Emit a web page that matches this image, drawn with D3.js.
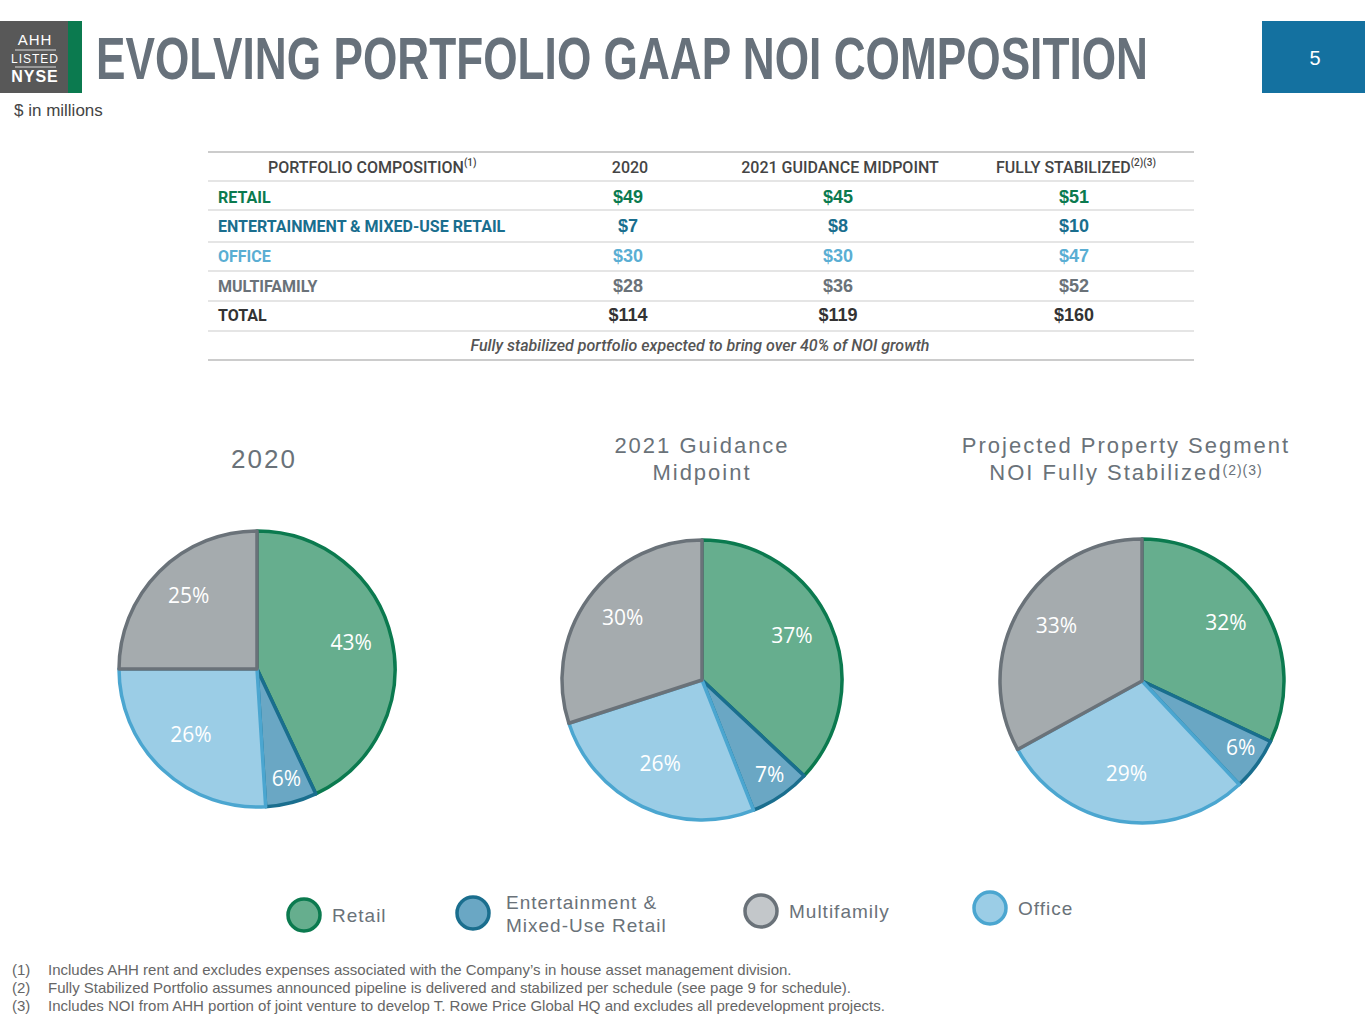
<!DOCTYPE html>
<html><head><meta charset="utf-8">
<script src="https://cdn.jsdelivr.net/npm/d3@7"></script>
<style>
body{margin:0;background:#fff;}
svg{display:block;font-family:"Liberation Sans",Arial,sans-serif;}
.nar{font-family:Roboto,"Liberation Sans",sans-serif;}
</style></head><body>
<svg id="c" width="1365" height="1024"></svg>
<script>
const segments = ["Retail", "Entertainment & Mixed-Use Retail", "Office", "Multifamily"];
const tableRows = ["RETAIL", "ENTERTAINMENT & MIXED-USE RETAIL", "OFFICE", "MULTIFAMILY", "TOTAL"];
const tableCols = ["2020", "2021 GUIDANCE MIDPOINT", "FULLY STABILIZED"];
const noi2020 = [49, 7, 30, 28, 114];
const noi2021 = [45, 8, 30, 36, 119];
const noiStab = [51, 10, 47, 52, 160];
const pie2020 = [43, 6, 26, 25];
const pie2021 = [37, 7, 26, 30];
const pieStab = [32, 6, 29, 33];
const fills = ["#66ae8e", "#6aa7c4", "#9bcde6", "#a5abae"];
const strokes = ["#0b7a4f", "#1a6e8e", "#4ba6d0", "#6a7279"];
const rowColors = ["#0b7a4f", "#1a6e8e", "#5aaed3", "#6a7279", "#333"];

const svg = d3.select("#c");

// header
svg.append("rect").attr("x",0).attr("y",21).attr("width",68).attr("height",72).attr("fill","#585858");
svg.append("rect").attr("x",68).attr("y",21).attr("width",14).attr("height",72).attr("fill","#0b7a4f");
[["AHH",45,15,"normal"],["LISTED",63,12,"normal"],["NYSE",82,16,"bold"]].forEach(d=>{
  svg.append("text").attr("x",35).attr("y",d[1]).attr("text-anchor","middle").attr("fill","#fff")
    .attr("font-size",d[2]).attr("font-weight",d[3]).attr("letter-spacing",1).text(d[0]);
});
svg.append("line").attr("x1",15).attr("x2",56).attr("y1",50).attr("y2",50).attr("stroke","#ddd");
svg.append("line").attr("x1",15).attr("x2",56).attr("y1",67).attr("y2",67).attr("stroke","#ddd");
svg.append("text").attr("x",96).attr("y",79).attr("font-size",60).attr("font-weight","bold")
  .attr("fill","#67717b").attr("textLength",1052).attr("lengthAdjust","spacingAndGlyphs")
  .text("EVOLVING PORTFOLIO GAAP NOI COMPOSITION");
svg.append("rect").attr("x",1262).attr("y",21).attr("width",103).attr("height",72).attr("fill","#1471a0");
svg.append("text").attr("x",1315).attr("y",65).attr("text-anchor","middle").attr("fill","#fff").attr("font-size",20).text("5");
svg.append("text").attr("x",14).attr("y",116).attr("font-size",17).attr("fill","#444").text("$ in millions");

// table
const colX = d3.scaleOrdinal().domain(tableCols).range([630, 840, 1076]);
const rowY = d3.scaleBand().domain(["head", ...tableRows, "note"]).range([152, 360]);
const lines = [152,181,210,242,271,301,331,360];
lines.forEach(y=>svg.append("line").attr("x1",208).attr("x2",1194).attr("y1",y).attr("y2",y)
  .attr("stroke","#ccc").attr("stroke-width",y===152||y===360?2:1.2));
const tb = svg.append("g").attr("class","nar");
const hy = rowY("head")+rowY.bandwidth()/2+6;
tb.append("text").attr("x",268).attr("y",hy).attr("font-size",16).attr("fill","#444").attr("font-weight",500).text("PORTFOLIO COMPOSITION")
  .append("tspan").attr("font-size",10).attr("dy",-7).text("(1)");
tableCols.forEach((c,i)=>{
  const t = tb.append("text").attr("x",colX(c)).attr("y",hy).attr("text-anchor","middle").attr("font-size",16).attr("font-weight",500).attr("fill","#444").text(c);
  if(i===2) t.append("tspan").attr("font-size",10).attr("dy",-7).text("(2)(3)");
});
const series = [noi2020, noi2021, noiStab];
tableRows.forEach((r,i)=>{
  const y = rowY(r)+rowY.bandwidth()/2+6;
  tb.append("text").attr("x",218).attr("y",y).attr("font-size",16).attr("font-weight","bold").attr("fill",rowColors[i]).text(r);
  series.forEach((s,j)=>{
    tb.append("text").attr("x",colX(tableCols[j])-2).attr("y",y).attr("text-anchor","middle").attr("font-size",18)
      .attr("font-weight","bold").attr("fill",rowColors[i]).attr("font-family","Liberation Sans, sans-serif").text("$"+s[i]);
  });
});
tb.append("text").attr("x",700).attr("y",rowY("note")+rowY.bandwidth()/2+6).attr("text-anchor","middle")
  .attr("font-size",16).attr("font-style","italic").attr("font-weight",500).attr("fill","#555")
  .text("Fully stabilized portfolio expected to bring over 40% of NOI growth");

// pies
const pies = [
  {vals:pie2020, cx:257, cy:669, r:138, title:["2020"], ty:[468], tx:264},
  {vals:pie2021, cx:702, cy:680, r:140, title:["2021 Guidance","Midpoint"], ty:[453,480], tx:702},
  {vals:pieStab, cx:1142, cy:681, r:142, title:["Projected Property Segment","NOI Fully Stabilized"], ty:[453,480], tx:1126}
];
const pieGen = d3.pie().sort(null);
pies.forEach((p,pi)=>{
  const g = svg.append("g").attr("transform",`translate(${p.cx},${p.cy})`);
  const arc = d3.arc().innerRadius(0).outerRadius(p.r);
  const lab = d3.arc().innerRadius(p.r*0.7).outerRadius(p.r*0.7);
  const labSmall = d3.arc().innerRadius(p.r*0.86).outerRadius(p.r*0.86);
  const arcs = pieGen(p.vals);
  g.selectAll("path").data(arcs).join("path").attr("d",arc).attr("fill",(d,i)=>fills[i])
    .attr("stroke",(d,i)=>strokes[i]).attr("stroke-width",3.5).attr("stroke-linejoin","round");
  g.selectAll("text").data(arcs).join("text")
    .attr("transform",d=>`translate(${d.data<10?labSmall.centroid(d):lab.centroid(d)})`)
    .attr("text-anchor","middle").attr("dy","0.1em").attr("fill","#fff").attr("font-size",21)
    .attr("font-family","Open Sans, sans-serif").text(d=>d.data+"%");
  p.title.forEach((t,i)=>{
    const tt = svg.append("text").attr("x",p.tx).attr("y",p.ty[i]).attr("text-anchor","middle")
      .attr("font-size",pi===0?26:22).attr("letter-spacing",2).attr("fill","#6a7279").text(t);
    if(pi===2&&i===1) tt.append("tspan").attr("font-size",14).attr("dy",-5).attr("letter-spacing",1).text("(2)(3)");
  });
});

// legend
const legend = [
  {i:0, x:304, y:915, lines:["Retail"]},
  {i:1, x:473, y:913, lines:["Entertainment &","Mixed-Use Retail"]},
  {i:3, x:761, y:911, lines:["Multifamily"]},
  {i:2, x:990, y:908, lines:["Office"]}
];
legend.forEach(l=>{
  svg.append("circle").attr("cx",l.x).attr("cy",l.y).attr("r",16).attr("fill",l.i===3?"#c3c7ca":fills[l.i])
    .attr("stroke",strokes[l.i]).attr("stroke-width",3.5);
  l.lines.forEach((t,k)=>svg.append("text").attr("x",l.x+(l.i===1?33:28)).attr("y",l.y+7+(l.lines.length>1?(k*23-11):0))
    .attr("font-size",19).attr("letter-spacing",1).attr("fill","#6a7279").text(t));
});

// footnotes
const notes = [
  "Includes AHH rent and excludes expenses associated with the Company’s in house asset management division.",
  "Fully Stabilized Portfolio assumes announced pipeline is delivered and stabilized per schedule (see page 9 for schedule).",
  "Includes NOI from AHH portion of joint venture to develop T. Rowe Price Global HQ and excludes all predevelopment projects."
];
notes.forEach((n,i)=>{
  svg.append("text").attr("x",12).attr("y",975+i*18).attr("font-size",15).attr("fill","#666").text(`(${i+1})`);
  svg.append("text").attr("x",48).attr("y",975+i*18).attr("font-size",15).attr("fill","#666").text(n);
});
</script></body></html>
